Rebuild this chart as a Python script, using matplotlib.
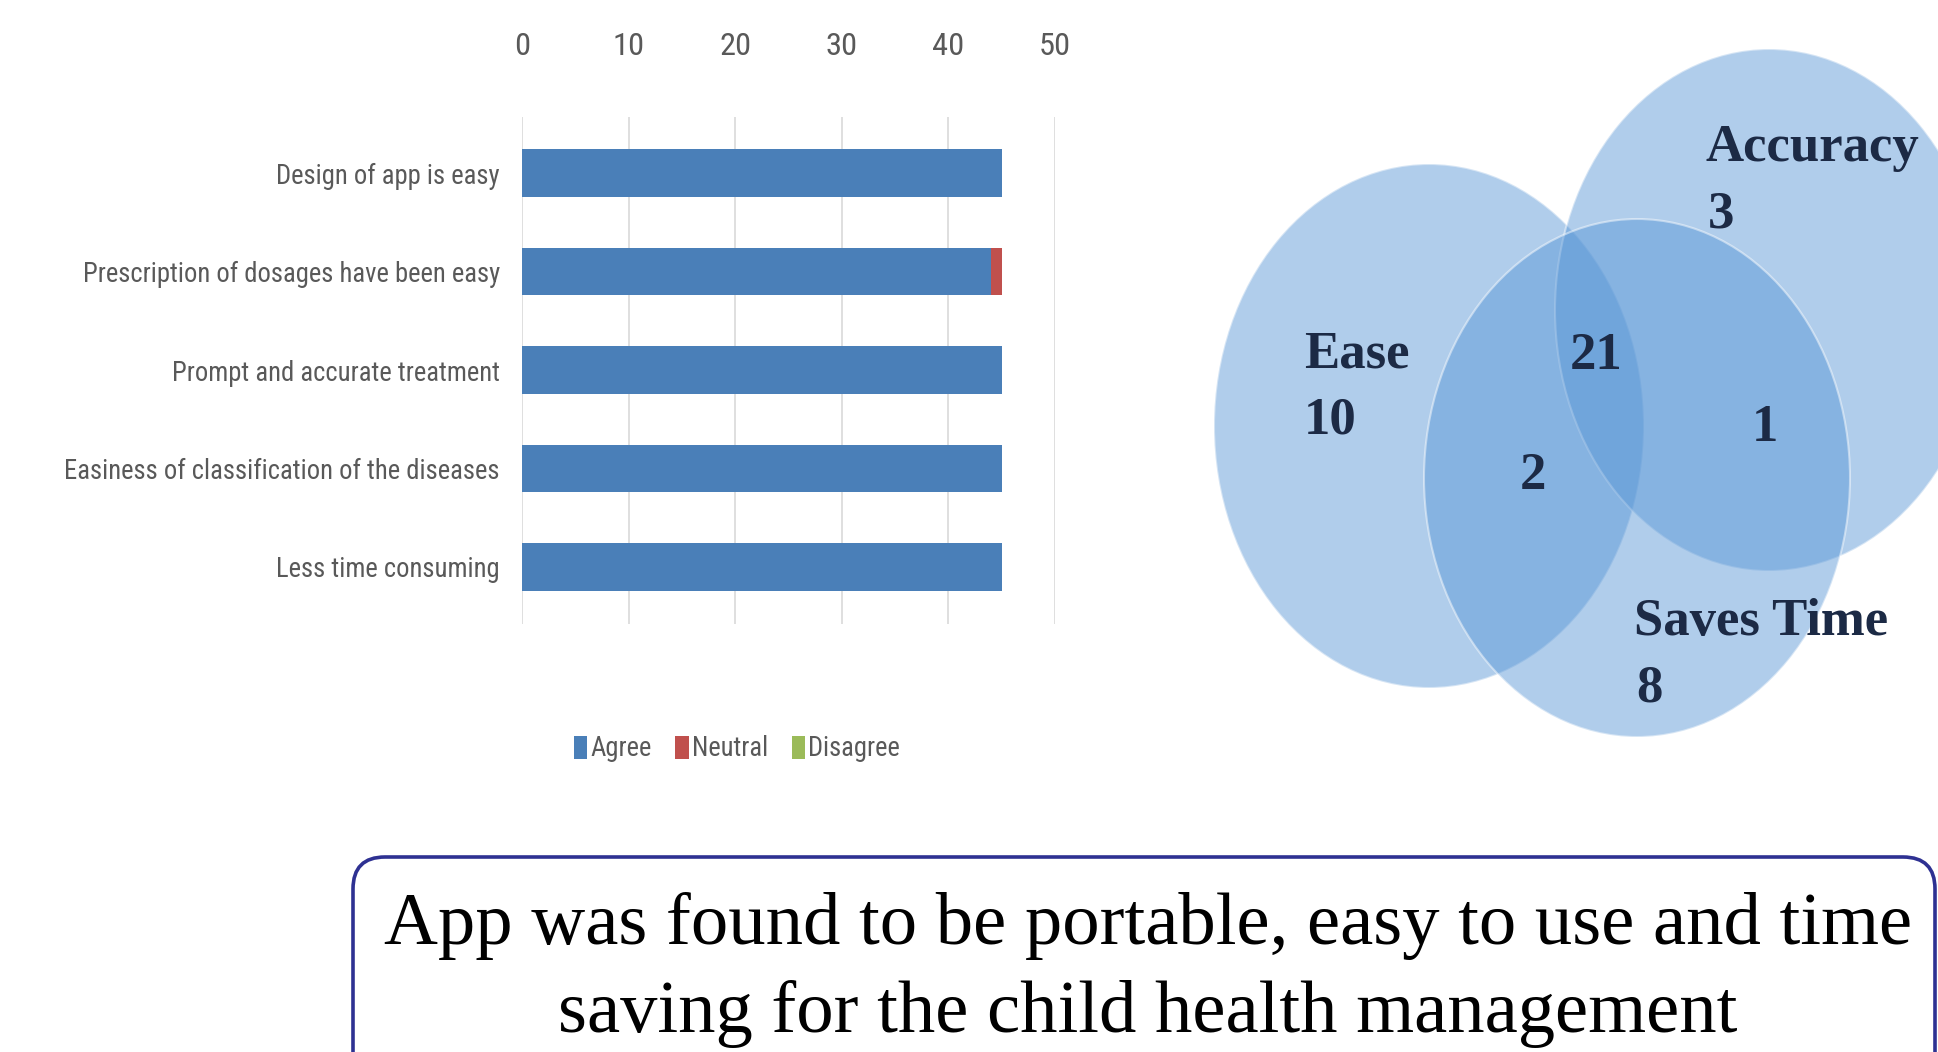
import matplotlib
matplotlib.use("Agg")
import matplotlib.pyplot as plt
from matplotlib import font_manager
from matplotlib.patches import Ellipse, FancyBboxPatch

# bar chart data (survey responses)
categories = ['Design of app is easy',
              'Prescription of dosages have been easy',
              'Prompt and accurate treatment',
              'Easiness of classification of the diseases',
              'Less time consuming']
agree = [45, 44, 45, 45, 45]
neutral = [0, 1, 0, 0, 0]
disagree = [0, 0, 0, 0, 0]
xticks = [0, 10, 20, 30, 40, 50]

# venn counts
venn_sets = ['Ease', 'Accuracy', 'Saves Time']
only_ease = 10
only_accuracy = 3
only_saves_time = 8
ease_saves_time = 2
accuracy_saves_time = 1
all_three = 21

summary = ('App was found to be portable, easy to use and time\n'
           'saving for the child health management')

W, H = 1938, 1052
fig = plt.figure(figsize=(W / 100, H / 100), dpi=100)
renderer = fig.canvas.get_renderer()

# pick the narrowest sans family that is installed
installed = {f.name for f in font_manager.fontManager.ttflist}
condensed = [f for f in font_manager.fontManager.ttflist
             if f.name == 'DejaVu Sans' and f.stretch == 'condensed']
narrow_kw = {'family': ['Liberation Sans', 'DejaVu Sans']}
for cand in ['Liberation Sans Narrow', 'Roboto Condensed',
             'Open Sans Condensed', 'Noto Sans Condensed']:
    if cand in installed:
        narrow_kw = {'family': [cand, 'DejaVu Sans']}
        break
else:
    if condensed:
        narrow_kw = {'family': ['DejaVu Sans'], 'stretch': 'condensed'}


def fit(text, target_px, base=20, **kw):
    """Font size that makes text about target_px wide."""
    t = fig.text(0, 0, text, fontsize=base, **kw)
    w = t.get_window_extent(renderer).width
    t.remove()
    return base * target_px / w


serif = ['Liberation Serif', 'DejaVu Serif']
grey = '#595959'

lab_size = fit(categories[1], 418, **narrow_kw)
tick_size = fit('10', 32, **narrow_kw)
leg_size = fit('Disagree', 92, **narrow_kw)

# --- stacked bar chart
ax = fig.add_axes([522 / W, 1 - 624 / H, 533 / W, 507 / H])
ypos = list(range(len(categories)))
left2 = [a + n for a, n in zip(agree, neutral)]
b1 = ax.barh(ypos, agree, height=0.48, color='#4a7fb8', label='Agree')
b2 = ax.barh(ypos, neutral, left=agree, height=0.48, color='#c0504d',
             label='Neutral')
b3 = ax.barh(ypos, disagree, left=left2, height=0.48, color='#9bbb59',
             label='Disagree')
ax.set_xlim(0, 50)
ax.set_ylim(len(categories) - 0.42, -0.57)
ax.set_xticks(xticks)
ax.set_xticklabels([str(t) for t in xticks], fontsize=tick_size,
                   color=grey, **narrow_kw)
ax.set_yticks(ypos)
ax.set_yticklabels(categories, fontsize=lab_size, color=grey, **narrow_kw)
ax.xaxis.tick_top()
ax.tick_params(axis='x', length=0, pad=40)
ax.tick_params(axis='y', length=0, pad=16)
for s in ax.spines.values():
    s.set_visible(False)
ax.set_axisbelow(True)
ax.grid(axis='x', color='#d9d9d9', linewidth=1.2)
ax.grid(axis='y', visible=False)

leg_prop = font_manager.FontProperties(size=leg_size, **narrow_kw)
fig.legend(handles=[b1, b2, b3], loc='center',
           bbox_to_anchor=(737 / W, 1 - 749 / H), ncol=3, frameon=False,
           prop=leg_prop, labelcolor=grey,
           handlelength=0.5, handleheight=0.95, handletextpad=0.12,
           columnspacing=0.9)

# --- overlay in pixel coordinates for venn and summary box
ov = fig.add_axes([0, 0, 1, 1], zorder=3)
ov.set_xlim(0, W)
ov.set_ylim(H, 0)
ov.axis('off')
ov.patch.set_alpha(0)

circles = {'Ease': ((1429, 426), 430, 524),
           'Accuracy': ((1769, 310), 428, 522),
           'Saves Time': ((1637, 478), 426, 518)}
for name in venn_sets:
    c, w, h = circles[name]
    ov.add_patch(Ellipse(c, w, h, facecolor='#5896d6', alpha=0.47,
                         edgecolor='white', linewidth=1.5))

vtxt = dict(family=serif, fontweight='bold', fontsize=38, color='#1c2a45',
            va='center')
ov.text(1304, 354, 'Ease', ha='left', **vtxt)
ov.text(1304, 420, str(only_ease), ha='left', **vtxt)
ov.text(1706, 148, 'Accuracy', ha='left', **vtxt)
ov.text(1708, 214, str(only_accuracy), ha='left', **vtxt)
ov.text(1634, 622, 'Saves Time', ha='left', **vtxt)
ov.text(1636, 688, str(only_saves_time), ha='left', **vtxt)
ov.text(1596, 356, str(all_three), ha='center', **vtxt)
ov.text(1533, 476, str(ease_saves_time), ha='center', **vtxt)
ov.text(1765, 428, str(accuracy_saves_time), ha='center', **vtxt)

box = FancyBboxPatch((353, 857), 1582, 260,
                     boxstyle='round,pad=0,rounding_size=32',
                     facecolor='white', edgecolor='#2e3192', linewidth=2.6)
ov.add_patch(box)
ov.text(1148, 970, summary, ha='center', va='center', family=serif,
        fontsize=53.7, color='black', linespacing=1.4)

fig.savefig('out.png', dpi=100, facecolor='white')
